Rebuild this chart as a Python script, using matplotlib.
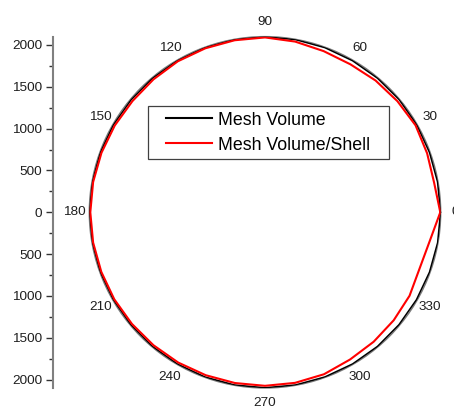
import numpy as np
import matplotlib
matplotlib.use("Agg")
import matplotlib.pyplot as plt
from matplotlib.lines import Line2D
from matplotlib.legend_handler import HandlerLine2D

# Polar profile sampled every 10 degrees (closed curve)
angle_deg = [0, 10, 20, 30, 40, 50, 60, 70, 80, 90, 100, 110, 120,
             130, 140, 150, 160, 170, 180, 190, 200, 210, 220, 230, 240,
             250, 260, 270, 280, 290, 300, 310, 320, 330, 340, 350, 360]
mesh_volume = [2098, 2094, 2092, 2094, 2094, 2092, 2092, 2094, 2096, 2097, 2096, 2095, 2094,
               2092, 2090, 2092, 2094, 2096, 2096, 2095, 2094, 2092, 2092, 2093, 2094,
               2095, 2096, 2097, 2096, 2094, 2093, 2092, 2090, 2090, 2092, 2095, 2098]
mesh_volume_shell = [2095, 2052, 2062, 2078, 2066, 2056, 2042, 2050, 2072, 2090, 2088, 2086, 2084,
                     2074, 2068, 2074, 2080, 2086, 2088, 2086, 2082, 2080, 2076, 2074, 2074,
                     2072, 2072, 2074, 2070, 2060, 2032, 2020, 2008, 1995, 1966, 1998, 2095]

angle_ticks = [0, 30, 60, 90, 120, 150, 180, 210, 240, 270, 300, 330]
angle_tick_labels = ["0", "30", "60", "90", "120", "150", "180", "210", "240", "270", "300", "330"]
angle_minor_ticks = [15, 45, 75, 105, 135, 165, 195, 225, 255, 285, 315, 345]

radius_ticks = [-2000, -1500, -1000, -500, 0, 500, 1000, 1500, 2000]
radius_tick_labels = ["2000", "1500", "1000", "500", "0", "500", "1000", "1500", "2000"]
radius_minor_ticks = [-1750, -1250, -750, -250, 250, 750, 1250, 1750]
r_max = 2100

plt.rcParams["font.family"] = ["Liberation Sans", "DejaVu Sans"]

W, H = 454, 408
fig = plt.figure(figsize=(W / 100, H / 100), dpi=100)

# polar frame placement (pixels)
cx, cy, R = 265.0, 212.3, 175.7
ax = fig.add_axes([(cx - R) / W, 1 - (cy + R) / H, 2 * R / W, 2 * R / H],
                  projection="polar")
ax.set_ylim(0, r_max)

theta = np.deg2rad(angle_deg)
ax.plot(theta, mesh_volume, color="black", lw=1.1, label="Mesh Volume", zorder=3)
ax.plot(theta, mesh_volume_shell, color="#ff0000", lw=1.5, label="Mesh Volume/Shell", zorder=4)

ax.grid(False)
ax.set_yticks([])
ax.set_xticks(np.deg2rad(angle_ticks))
ax.set_xticklabels(angle_tick_labels)
ax.set_xticks(np.deg2rad(angle_minor_ticks), minor=True)
ax.tick_params(axis="x", which="major", direction="in", length=5, width=0.8,
               color="#333333", pad=3.5, labelsize=9.7, labelcolor="#1e1e1e")
ax.tick_params(axis="x", which="minor", direction="in", length=3, width=0.8,
               color="#333333")
ax.spines["polar"].set_color("#7a7a7a")
ax.spines["polar"].set_linewidth(1.0)

# radial scale drawn as a vertical axis at the left
rax = fig.add_axes([52.7 / W, 1 - (cy + R) / H, 0.0005, 2 * R / H])
rax.set_ylim(-r_max, r_max)
rax.set_xticks([])
rax.patch.set_visible(False)
for side in ["top", "right", "bottom"]:
    rax.spines[side].set_visible(False)
rax.spines["left"].set_color("#808080")
rax.spines["left"].set_linewidth(1.5)
rax.set_yticks(radius_ticks)
rax.set_yticklabels(radius_tick_labels)
rax.set_yticks(radius_minor_ticks, minor=True)
rax.tick_params(axis="y", which="major", length=4.7, width=1.0, color="#333333",
                pad=3, labelsize=9.7, labelcolor="#1e1e1e")
rax.tick_params(axis="y", which="minor", length=3, width=1.0, color="#333333")

# legend box
fs = 12.8
leg = ax.legend(loc="upper left",
                bbox_to_anchor=(148 / W, 1 - 106.2 / H - 0.1, 241 / W, 0.1),
                bbox_transform=fig.transFigure, mode="expand", borderaxespad=0,
                fontsize=fs, handlelength=3.32, handletextpad=0.315,
                labelspacing=0.45, borderpad=0.3, fancybox=False, framealpha=1,
                edgecolor="#404040",
                handler_map={Line2D: HandlerLine2D(xpad=0.737)})
leg.get_frame().set_linewidth(0.9)
for line in leg.get_lines():
    line.set_linewidth(1.5)

fig.savefig("out.png", dpi=100)
